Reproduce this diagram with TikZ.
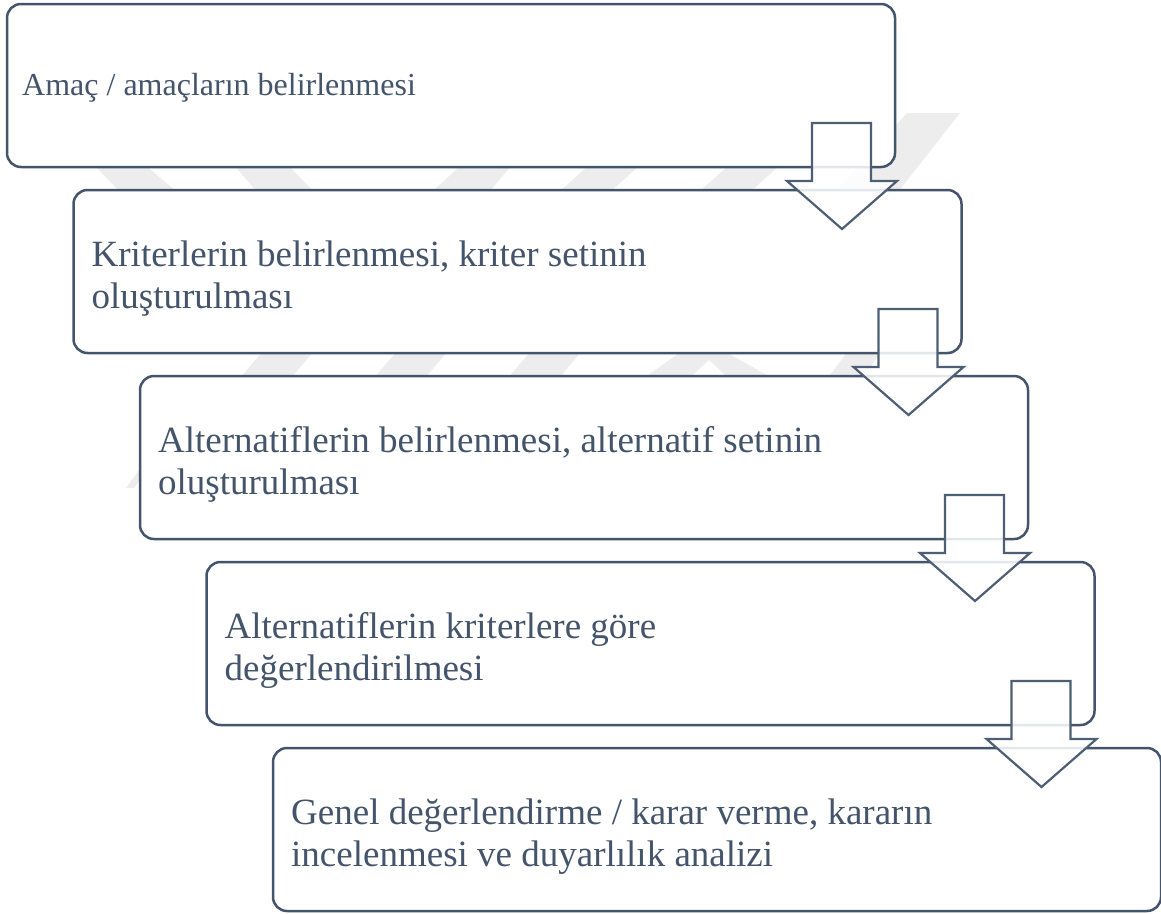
\documentclass[tikz,border=0pt]{standalone}
\usepackage{fontspec}
\setmainfont{Liberation Serif}
\usetikzlibrary{calc}
\definecolor{tcol}{HTML}{44546A}
\definecolor{acol}{HTML}{4E5E74}
\definecolor{wm}{HTML}{EDEDED}
\tikzset{
  stepbox/.style={draw=tcol, line width=2.5pt, rounded corners=14pt, fill=white,
    minimum width=888pt, minimum height=163pt, inner sep=0pt, outer sep=0pt},
  bigtxt/.style={anchor=base west, inner sep=0pt, text=tcol, font=\fontsize{37pt}{42pt}\selectfont},
  smalltxt/.style={anchor=base west, inner sep=0pt, text=tcol, font=\fontsize{32pt}{37pt}\selectfont},
  blockarrow/.style={draw=acol, line width=2.2pt, fill=white, fill opacity=0.86, line join=miter},
  wmark/.style={fill=wm}
}
\newcommand\mkarrow[1]{%
  \draw[blockarrow] ($(#1.south east)+(-83,-44)$) -- ++(59,0) -- ++(0,58) -- ++(26,0)
    -- ++(-55,48) -- ++(-55,-48) -- ++(25,0) -- cycle;}
\begin{document}
\begin{tikzpicture}[x=1pt,y=-1pt]
\useasboundingbox (0,0) rectangle (1161,913);
\fill[white] (0,0) rectangle (1161,913);
% faint watermark bands
\fill[wmark] (94,165) -- (145,165) -- (177,192) -- (120,192) -- cycle;
\fill[wmark] (234,165) -- (288,165) -- (314,192) -- (257,192) -- cycle;
\fill[wmark] (461,165) -- (512,165) -- (489,192) -- (432,192) -- cycle;
\fill[wmark] (589,165) -- (640,165) -- (610,192) -- (559,192) -- cycle;
\fill[wmark] (729,165) -- (780,165) -- (750,192) -- (699,192) -- cycle;
\fill[wmark] (907,113) -- (960,113) -- (898,192) -- (835,192) -- cycle;
\fill[wmark] (263,351) -- (314,351) -- (291,378) -- (240,378) -- cycle;
\fill[wmark] (397,351) -- (448,351) -- (425,378) -- (374,378) -- cycle;
\fill[wmark] (531,351) -- (582,351) -- (559,378) -- (508,378) -- cycle;
\fill[wmark] (682,351) -- (724,351) -- (772,378) -- (644,378) -- cycle;
\fill[white] (690,378) -- (709,360) -- (728,378) -- cycle;
\fill[wmark] (848,351) -- (882,351) -- (862,378) -- (828,378) -- cycle;
\fill[wmark] (126,488) -- (134,488) -- (150,466) -- (142,466) -- cycle;
% boxes
\node[stepbox] (b0) at (451,85.5) {};
\node[stepbox] (b1) at (517.5,271.5) {};
\node[stepbox] (b2) at (584,457.5) {};
\node[stepbox] (b3) at (650.5,643.5) {};
\node[stepbox] (b4) at (717,829.5) {};
% texts
\node[smalltxt] (t0) at (22,95) {Amaç / amaçların belirlenmesi};
\node[bigtxt] (t1a) at (91.5,266) {Kriterlerin belirlenmesi, kriter setinin};
\node[bigtxt] (t1b) at (91.5,308) {oluşturulması};
\node[bigtxt] (t2a) at (158,452) {Alternatiflerin belirlenmesi, alternatif setinin};
\node[bigtxt] (t2b) at (158,494) {oluşturulması};
\node[bigtxt] (t3a) at (224.5,638) {Alternatiflerin kriterlere göre};
\node[bigtxt] (t3b) at (224.5,680) {değerlendirilmesi};
\node[bigtxt] (t4a) at (291,824) {Genel değerlendirme / karar verme, kararın};
\node[bigtxt] (t4b) at (291,866) {incelenmesi ve duyarlılık analizi};
% block arrows
\mkarrow{b0}
\mkarrow{b1}
\mkarrow{b2}
\mkarrow{b3}
\end{tikzpicture}
\end{document}
